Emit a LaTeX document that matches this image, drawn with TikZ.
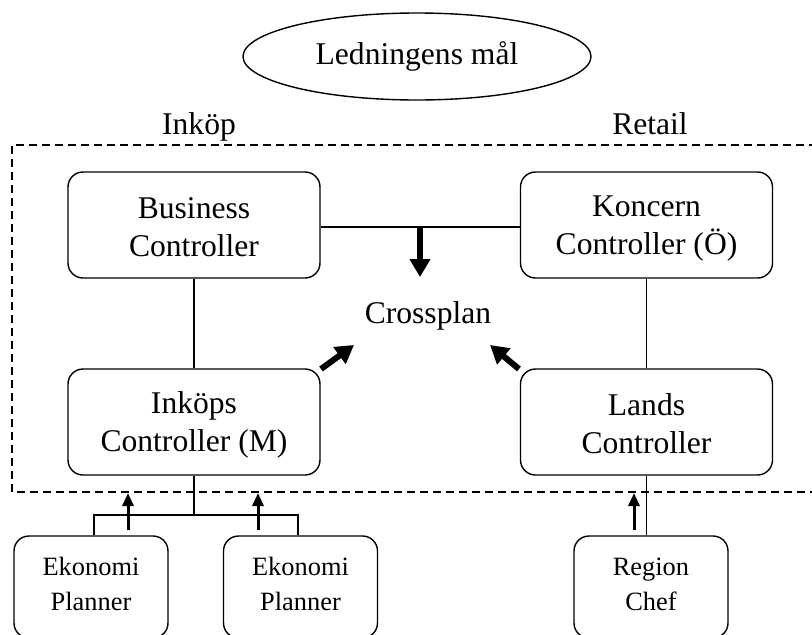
\documentclass[tikz,border=0pt]{standalone}
\usepackage{fontspec}
\setmainfont{Liberation Serif}
\usetikzlibrary{arrows.meta,shapes.geometric}
\newcommand\bigstrt{\rule[-4pt]{0pt}{32pt}}
\newcommand\smlstrt{\rule[-6pt]{0pt}{21pt}}
\begin{document}
\begin{tikzpicture}[x=1pt,y=-1pt,
  bigtext/.style={font=\fontsize{31.6}{38}\selectfont},
  smalltext/.style={font=\fontsize{26.4}{35}\selectfont},
  box/.style={draw,rounded corners=15pt,line width=1.4pt,align=center,inner sep=0pt},
  bigbox/.style={box,bigtext,minimum width=252pt,minimum height=106pt},
  smallbox/.style={box,smalltext,minimum width=154pt,minimum height=102pt},
  conn/.style={line width=1.4pt},
  fatarrow/.style={line width=6pt,-{Triangle[length=18pt,width=20pt]}},
  thinarrow/.style={line width=3pt,-{Triangle[length=13pt,width=11pt]}}
]
\useasboundingbox (0,0) rectangle (812,635);
\clip (0,0) rectangle (812,635);

% goal ellipse
\node[draw,ellipse,line width=1.4pt,bigtext,minimum width=348pt,minimum height=87pt,inner sep=0pt] (goal) at (417,56.5) {Ledningens mål};

% group labels
\node[bigtext,anchor=base] (inkop) at (199,134) {Inköp};
\node[bigtext,anchor=base] (retail) at (650,134) {Retail};

% dashed frame
\draw[line width=1.3pt,dash pattern=on 8pt off 5pt] (830,145) -- (12,145) -- (12,492) -- (830,492);

% main boxes
\node[bigbox] (bc) at (194,225) {\bigstrt Business\\\bigstrt Controller};
\node[bigbox] (kc) at (646.5,225) {\bigstrt Koncern\\\bigstrt Controller (Ö)};
\node[bigbox] (ic) at (194,422) {\bigstrt Inköps\\\bigstrt Controller (M)};
\node[bigbox] (lc) at (646.5,422) {\bigstrt Lands\\\bigstrt Controller};

\node[bigtext,anchor=base] (cross) at (428,323) {Crossplan};

% bottom boxes
\node[smallbox] (e1) at (91,587) {\smlstrt Ekonomi\\\smlstrt Planner};
\node[smallbox] (e2) at (300.5,587) {\smlstrt Ekonomi\\\smlstrt Planner};
\node[smallbox] (rc) at (651,587) {\smlstrt Region\\\smlstrt Chef};

% connectors
\draw[conn] ([yshift=-2pt]bc.east) -- ([yshift=-2pt]kc.west);
\draw[conn] (bc.south) -- (ic.north);
\draw[conn] (kc.south) -- (lc.north);
\coordinate (j) at (193,515);
\draw[conn] (ic.south) -- (ic.south |- j);
\draw[conn] ([xshift=3pt]e1.north) |- (j) -| ([xshift=-2.5pt]e2.north);
\draw[conn] (lc.south) -- (lc.south |- rc.north);

% arrows to Crossplan
\coordinate (dtop) at (420,228);
\coordinate (dbot) at (420,277);
\draw[fatarrow] (dtop) -- (dbot);
\coordinate (ltail) at (321,369);
\coordinate (lhead) at (354,345);
\draw[fatarrow] (ltail) -- (lhead);
\coordinate (rtail) at (519,369);
\coordinate (rhead) at (490,345);
\draw[fatarrow] (rtail) -- (rhead);

% small up arrows
\coordinate (a1t) at (128,530);
\coordinate (a1h) at (128,493);
\draw[thinarrow] (a1t) -- (a1h);
\coordinate (a2t) at (258,530);
\coordinate (a2h) at (258,493);
\draw[thinarrow] (a2t) -- (a2h);
\coordinate (a3t) at (634,530);
\coordinate (a3h) at (634,493);
\draw[thinarrow] (a3t) -- (a3h);
\end{tikzpicture}
\end{document}
